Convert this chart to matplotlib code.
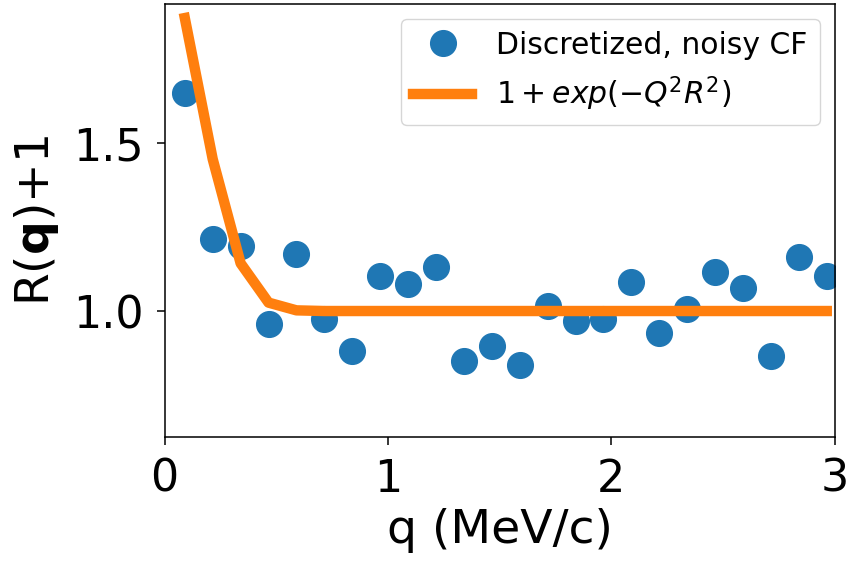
import numpy as np
import matplotlib
matplotlib.use("Agg")
import matplotlib.pyplot as plt

# momentum bins (MeV/c)
q = [0.09, 0.215, 0.34, 0.465, 0.59, 0.715, 0.84, 0.965, 1.09, 1.215,
     1.34, 1.465, 1.59, 1.715, 1.84, 1.965, 2.09, 2.215, 2.34, 2.465,
     2.59, 2.715, 2.84, 2.965]

# noisy discretized correlation function
cf_noisy = [1.65, 1.215, 1.195, 0.96, 1.17, 0.975, 0.88, 1.105, 1.08, 1.13,
            0.85, 0.895, 0.84, 1.015, 0.97, 0.975, 1.085, 0.935, 1.005, 1.115,
            1.07, 0.865, 1.16, 1.105]

# gaussian source curve 1 + exp(-Q^2 R^2)
cf_model = [1.872, 1.452, 1.142, 1.025, 1.002, 1.0, 1.0, 1.0, 1.0, 1.0,
            1.0, 1.0, 1.0, 1.0, 1.0, 1.0, 1.0, 1.0, 1.0, 1.0,
            1.0, 1.0, 1.0, 1.0]

fig = plt.figure(figsize=(8.49, 5.61), dpi=100)
ax = fig.add_subplot(111)
ax.plot(q, cf_noisy, 'o', color='#1f77b4', markersize=18.5, label='Discretized, noisy CF')
ax.plot(q, cf_model, '-', color='#ff7f0e', linewidth=7.5, label=r'$1+exp(-Q^2R^2)$')

ax.set_xlim(0, 3)
ax.set_ylim(0.625, 1.914)
ax.set_xticks([0, 1, 2, 3])
ax.set_yticks([1.0, 1.5])
ax.tick_params(labelsize=32, length=6, width=1.1, pad=9)
for s in ax.spines.values():
    s.set_linewidth(1.1)
ax.set_xlabel("q (MeV/c)", fontsize=34, labelpad=5)
ax.set_ylabel(r"R($\mathbf{q}$)+1", fontsize=34, labelpad=9)
ax.legend(loc='upper right', fontsize=21.5)

fig.subplots_adjust(left=0.194, right=0.983, top=0.993, bottom=0.221)
fig.savefig("out.png", dpi=100)
